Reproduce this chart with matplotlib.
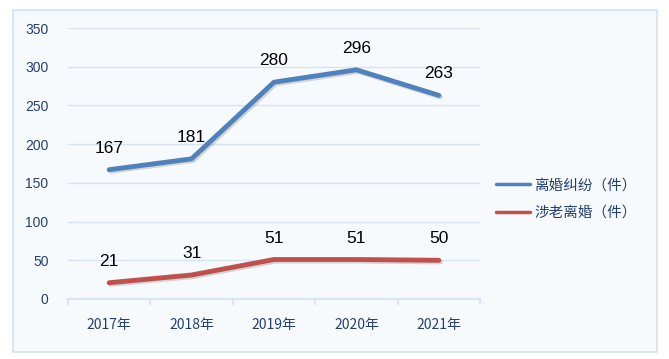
import matplotlib
matplotlib.use("Agg")
import matplotlib.pyplot as plt
import matplotlib.patheffects as pe
from matplotlib.patches import Rectangle

plt.rcParams['font.family'] = ['Noto Sans CJK SC', 'DejaVu Sans']

categories = ["2017年", "2018年", "2019年", "2020年", "2021年"]
divorce = [167, 181, 280, 296, 263]
elderly = [21, 31, 51, 51, 50]
series_names = ["离婚纠纷（件）", "涉老离婚（件）"]
yticks = [0, 50, 100, 150, 200, 250, 300, 350]

W, H = 669, 359
fig = plt.figure(figsize=(W / 100, H / 100), dpi=100)
fig.patch.set_facecolor("white")
fig.patches.append(Rectangle((13 / W, 1 - 352 / H), (657 - 13) / W, (352 - 10) / H,
                             transform=fig.transFigure, facecolor="#F7FAFC",
                             edgecolor="#D3E1F2", linewidth=1.2, zorder=-10))

ax = fig.add_axes([68 / W, 1 - 299 / H, (480 - 68) / W, (299 - 28) / H])
ax.set_facecolor("none")
x = list(range(len(categories)))
ax.set_xlim(-0.5, len(categories) - 0.5)
ax.set_ylim(0, 350)
ax.set_yticks(yticks)
ax.set_yticklabels([str(v) for v in yticks], fontsize=10, color="#243F74",
                   family=["Liberation Sans", "DejaVu Sans"])
ax.set_xticks(x)
ax.set_xticklabels(categories, fontsize=10, color="#243F74")
ax.tick_params(axis="y", length=0, pad=14)
ax.tick_params(axis="x", length=0, pad=14)
for b in [i - 0.5 for i in range(len(categories) + 1)]:
    ax.plot([b, b], [0, -7], color="#D3E1F2", lw=1.2, clip_on=False)
ax.grid(axis="y", color="#D6E3F3", lw=1)
ax.set_axisbelow(True)
for s in ["top", "right", "left"]:
    ax.spines[s].set_visible(False)
ax.spines["bottom"].set_color("#D3E1F2")
ax.spines["bottom"].set_linewidth(1.2)

fx = [pe.SimpleLineShadow(offset=(1.2, -1.2), alpha=0.15), pe.Normal()]
l1, = ax.plot(x, divorce, color="#4F81BD", lw=3.5, solid_capstyle="round",
              solid_joinstyle="round", path_effects=fx, label=series_names[0])
l2, = ax.plot(x, elderly, color="#C0504D", lw=3.5, solid_capstyle="round",
              solid_joinstyle="round", path_effects=fx, label=series_names[1])

for xs, ys in [(x, divorce), (x, elderly)]:
    for xi, yi in zip(xs, ys):
        ax.annotate(str(yi), (xi, yi), xytext=(0, 10), textcoords="offset points",
                    ha="center", va="bottom", fontsize=12.5, color="black",
                    family=["Liberation Sans", "DejaVu Sans"])

leg = fig.legend(handles=[l1, l2], loc="upper left",
                 bbox_to_anchor=(483 / W, 1 - 165 / H), frameon=False,
                 fontsize=10.5, handlelength=2.35, handletextpad=0.25,
                 labelspacing=0.95, labelcolor="#243F74")
for h in leg.legend_handles:
    h.set_linewidth(2.5)
    h.set_path_effects([])

fig.savefig("out.png", dpi=100)
